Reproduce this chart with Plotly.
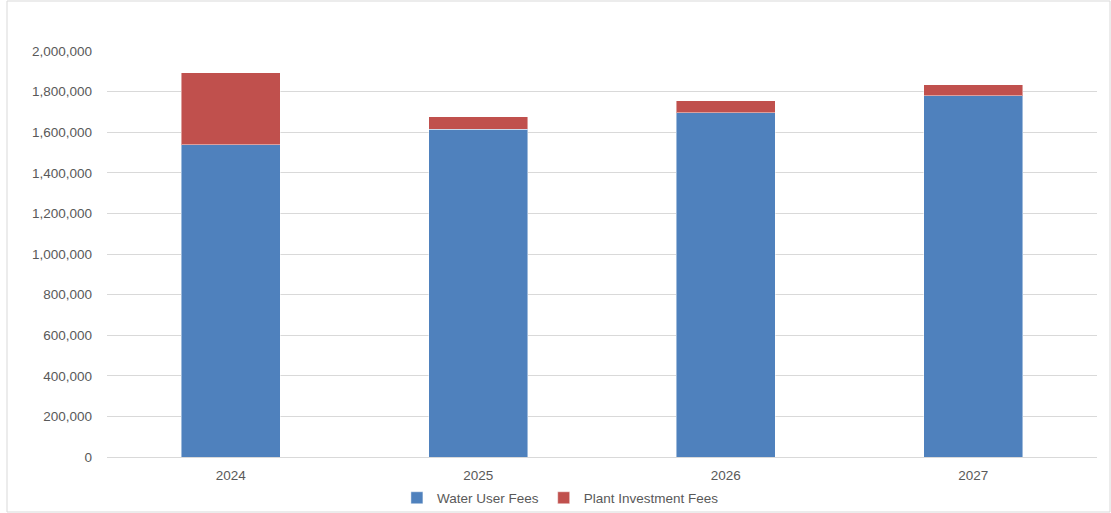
import plotly.graph_objects as go

years = ["2024", "2025", "2026", "2027"]
water_user_fees = [1537000, 1614000, 1695000, 1780000]
plant_investment_fees = [355000, 61000, 59000, 54000]

tick_vals = [0, 200000, 400000, 600000, 800000, 1000000, 1200000,
             1400000, 1600000, 1800000, 2000000]
tick_text = ["0", "200,000", "400,000", "600,000", "800,000", "1,000,000",
             "1,200,000", "1,400,000", "1,600,000", "1,800,000", "2,000,000"]

BLUE = "#4F81BD"
RED = "#C0504D"
TEXT = "#595959"
GRID = "#D9D9D9"
FONT = "Liberation Sans, Arial, sans-serif"

fig = go.Figure()
fig.add_trace(go.Bar(
    x=years, y=water_user_fees, name="Water User Fees",
    marker=dict(color=BLUE, line=dict(color="rgba(255,255,255,0.45)", width=1)),
))
fig.add_trace(go.Bar(
    x=years, y=plant_investment_fees, name="Plant Investment Fees",
    marker=dict(color=RED, line=dict(color="rgba(255,255,255,0.45)", width=1)),
))

fig.update_layout(
    barmode="stack",
    bargap=0.6,
    width=1111, height=513,
    margin=dict(l=107, r=14, t=51, b=56, autoexpand=False),
    paper_bgcolor="white",
    plot_bgcolor="white",
    font=dict(family=FONT, size=13, color=TEXT),
    showlegend=True,
    legend=dict(
        orientation="h", x=0.458, xanchor="center", y=-0.101, yanchor="middle",
        font=dict(family=FONT, size=13.5, color=TEXT),
        itemwidth=30, traceorder="normal", bgcolor="rgba(0,0,0,0)",
    ),
    xaxis=dict(
        showgrid=False, showline=True, linecolor=GRID, linewidth=1,
        ticks="", ticklabelstandoff=6,
        tickfont=dict(family=FONT, size=13.5, color=TEXT),
    ),
    yaxis=dict(
        range=[0, 2000000], tickvals=tick_vals, ticktext=tick_text,
        showgrid=True, gridcolor=GRID, gridwidth=1,
        zeroline=False, showline=False, ticks="",
        ticklabelstandoff=14,
        tickfont=dict(family=FONT, size=13.5, color=TEXT),
    ),
    shapes=[dict(
        type="rect", xref="paper", yref="paper",
        x0=(7 - 107) / 990, x1=(1110 - 107) / 990,
        y0=(457 - 512) / 406, y1=(457 - 1) / 406,
        line=dict(color=GRID, width=1), fillcolor="rgba(0,0,0,0)", layer="below",
    )],
)

fig.write_html("out.html")
